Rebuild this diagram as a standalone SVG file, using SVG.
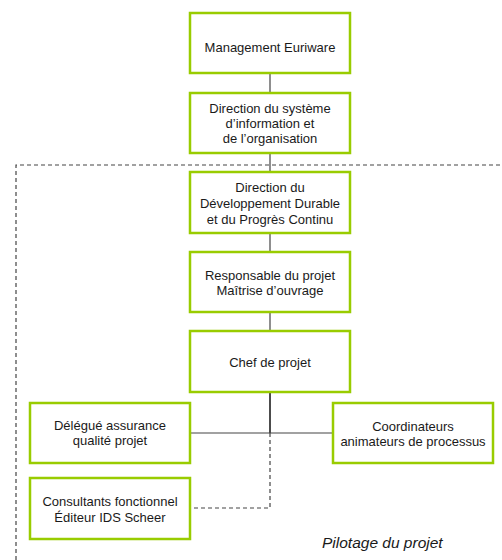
<svg xmlns="http://www.w3.org/2000/svg" width="502" height="560" viewBox="0 0 502 560">
<style>
.box{fill:#fff;stroke:#99CC00;stroke-width:2.5}
.t{font-family:"Liberation Sans",Arial,sans-serif;font-size:13px;fill:#1a1a1a;text-anchor:middle}
.ln{stroke:#444;stroke-width:1.2;fill:none}
.dash{stroke:#444;stroke-width:1.2;fill:none;stroke-dasharray:4 3}
</style>
<rect width="502" height="560" fill="#fff"/>
<g id="frame">
<path class="dash" d="M16 560 V165 H505"/>
</g>
<g id="connectors">
<line class="ln" x1="270" y1="73" x2="270" y2="93"/>
<line class="ln" x1="270" y1="153" x2="270" y2="172"/>
<line class="ln" x1="270" y1="233" x2="270" y2="252"/>
<line class="ln" x1="270" y1="312" x2="270" y2="331"/>
<line class="ln" x1="270" y1="392" x2="270" y2="433" style="stroke:#111;stroke-width:1.5"/>
<line class="ln" x1="190" y1="433" x2="333" y2="433"/>
<path class="dash" d="M270 433 V508 H191"/>
</g>
<g id="n1"><rect class="box" x="190" y="13" width="160" height="60"/>
<text class="t" x="270" y="52">Management Euriware</text></g>
<g id="n2"><rect class="box" x="190" y="93" width="160" height="60"/>
<text class="t" x="270" y="113">Direction du système</text>
<text class="t" x="270" y="128">d’information et</text>
<text class="t" x="270" y="143">de l’organisation</text></g>
<g id="n3"><rect class="box" x="190" y="172" width="160" height="61"/>
<text class="t" x="270" y="192">Direction du</text>
<text class="t" x="270" y="208">Développement Durable</text>
<text class="t" x="270" y="224">et du Progrès Continu</text></g>
<g id="n4"><rect class="box" x="190" y="252" width="160" height="60"/>
<text class="t" x="270" y="280">Responsable du projet</text>
<text class="t" x="270" y="295">Maîtrise d’ouvrage</text></g>
<g id="n5"><rect class="box" x="190" y="331" width="160" height="61"/>
<text class="t" x="270" y="367">Chef de projet</text></g>
<g id="n6"><rect class="box" x="30" y="403" width="160" height="60"/>
<text class="t" x="110" y="430">Délégué assurance</text>
<text class="t" x="110" y="445">qualité projet</text></g>
<g id="n7"><rect class="box" x="333" y="403" width="160" height="60"/>
<text class="t" x="413" y="431">Coordinateurs</text>
<text class="t" x="413" y="446">animateurs de processus</text></g>
<g id="n8"><rect class="box" x="30" y="478" width="160" height="61"/>
<text class="t" x="110" y="506">Consultants fonctionnel</text>
<text class="t" x="110" y="522">Éditeur IDS Scheer</text></g>
<text x="322" y="548" style="font-family:'Liberation Sans',Arial,sans-serif;font-size:15.5px;font-style:italic;fill:#1a1a1a">Pilotage du projet</text>
</svg>
